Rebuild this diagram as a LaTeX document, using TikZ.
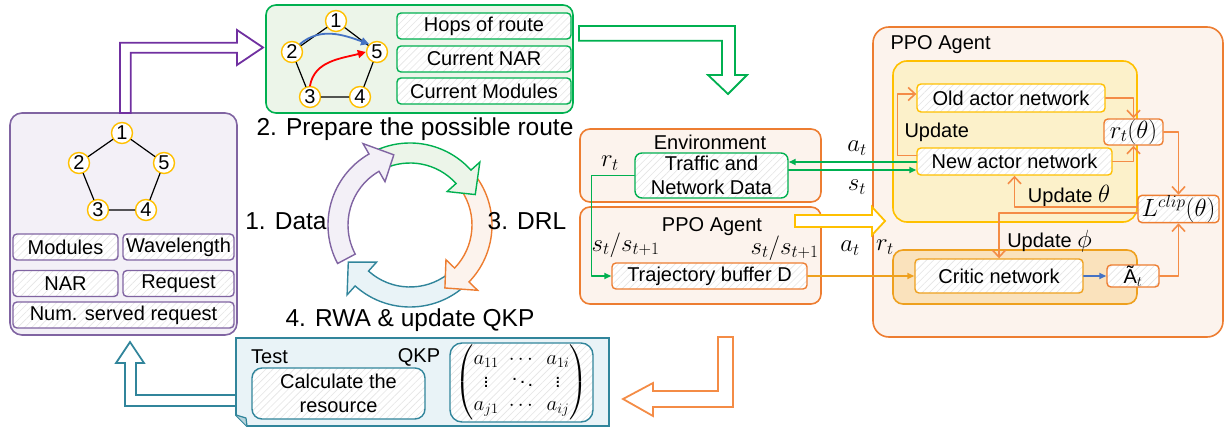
\documentclass[tikz,border=0pt]{standalone}
\usepackage{amsmath}
\usepackage{fontspec}
\setmainfont{Liberation Sans}
\usetikzlibrary{arrows.meta,patterns.meta}

\definecolor{purA}{RGB}{112,48,160}
\definecolor{purB}{RGB}{128,100,162}
\definecolor{purF}{RGB}{243,240,247}
\definecolor{grn}{RGB}{0,176,80}
\definecolor{grnF}{RGB}{236,245,233}
\definecolor{org}{RGB}{237,125,49}
\definecolor{orgL}{RGB}{244,140,70}
\definecolor{orgF}{RGB}{252,243,237}
\definecolor{yel}{RGB}{255,192,0}
\definecolor{yelF}{RGB}{252,241,202}
\definecolor{gold}{RGB}{238,160,30}
\definecolor{goldF}{RGB}{250,226,188}
\definecolor{tea}{RGB}{49,133,155}
\definecolor{teaF}{RGB}{233,243,247}
\definecolor{blu}{RGB}{68,114,196}

% one quarter of the cycle: start angle, end angle, line colour, fill colour
\newcommand{\cyclearrow}[4]{%
  \draw[#3, fill=#4, line width=1.4pt, line join=miter]
    (#1:82) arc[start angle=#1, end angle=#2, radius=82]
    -- (#2:94) -- ({#2-17}:72) -- (#2:50) -- (#2:62)
    arc[start angle=#2, end angle=#1, radius=62] -- cycle;}

\begin{document}
\begin{tikzpicture}[
  x=1pt, y=1pt,
  line cap=round,
  line join=round,
  every node/.style={font=\fontsize{20}{24}\selectfont},
  hatch/.style={preaction={fill=white},
    pattern={Lines[angle=45,distance=5pt,line width=0.6pt]}, pattern color=black!10},
  ibox/.style={draw, hatch, rounded corners=4pt, line width=1.4pt, inner sep=0pt, align=center},
  bigbox/.style={draw, rounded corners=12pt, line width=1.6pt, inner sep=0pt},
  rnode/.style={circle, draw=yel, fill=white, line width=1.4pt, minimum size=21pt, inner sep=0pt},
  stage/.style={font=\fontsize{24.5}{28}\selectfont},
  mlab/.style={font=\fontsize{23}{26}\selectfont},
  hollow/.style={line width=1.8pt, fill=white, line join=miter},
  barb/.style={orgL, line width=1.6pt, -{Straight Barb[length=7pt,width=13pt]}},
  garrow/.style={grn, line width=1.6pt, -{Triangle[length=7pt,width=6pt]}}
]
  \useasboundingbox (0,0) rectangle (1225,-430);

  % 1. Data
  \node[bigbox, draw=purB, fill=purF, minimum width=227pt, minimum height=222pt] (data) at (123.5,-224) {};
  \node[rnode] (d1) at (122,-133) {1};
  \node[rnode] (d2) at (79,-163) {2};
  \node[rnode] (d5) at (164,-163) {5};
  \node[rnode] (d3) at (98,-210) {3};
  \node[rnode] (d4) at (146,-210) {4};
  \draw[line width=1.2pt] (d1) -- (d2) -- (d3) -- (d4) -- (d5) -- (d1);
  \node[ibox, draw=purB, minimum width=105pt, minimum height=26pt] (mods) at (65.5,-247) {Modules};
  \node[ibox, draw=purB, minimum width=111pt, minimum height=26pt] (wave) at (178.5,-247) {Wavelength};
  \node[ibox, draw=purB, minimum width=105pt, minimum height=26pt] (nar) at (65.5,-283.5) {NAR};
  \node[ibox, draw=purB, minimum width=111pt, minimum height=26pt] (req) at (178.5,-283.5) {Request};
  \node[ibox, draw=purB, minimum width=221pt, minimum height=26pt] (served) at (123.5,-315) {Num. served request};

  % 2. Prepare the possible route
  \node[bigbox, draw=grn, fill=grnF, rounded corners=10pt, minimum width=307pt, minimum height=108pt] (route) at (419.5,-59) {};
  \node[rnode] (r1) at (336,-21) {1};
  \node[rnode] (r2) at (292,-52) {2};
  \node[rnode] (r5) at (377,-52) {5};
  \node[rnode] (r3) at (310,-97) {3};
  \node[rnode] (r4) at (360,-97) {4};
  \draw[line width=1.2pt] (r1) -- (r2) -- (r3) -- (r4) -- (r5) -- (r1);
  \draw[blu, line width=1.8pt, -{Triangle[length=8pt,width=8pt]}] (r2.north east) to[out=40,in=160] (r5.north west);
  \draw[red, line width=1.8pt, -{Triangle[length=8pt,width=8pt]}] (r3.north) to[out=80,in=195] (r5.west);
  \node[ibox, draw=grn, minimum width=174pt, minimum height=26pt] (hops) at (484,-26) {Hops of route};
  \node[ibox, draw=grn, minimum width=174pt, minimum height=26pt] (cnar) at (484,-59) {Current NAR};
  \node[ibox, draw=grn, minimum width=174pt, minimum height=26pt] (cmod) at (484,-91) {Current Modules};

  % cycle
  \begin{scope}[shift={(410,-225)}]
    \cyclearrow{-52}{-132}{tea}{teaF}
    \cyclearrow{34}{-44}{org}{orgF}
    \cyclearrow{116}{42}{grn}{grnF}
    \cyclearrow{208}{120}{purB}{purF}
  \end{scope}
  \node[stage] (lab1) at (286,-221) {1. Data};
  \node[stage] (lab2) at (415,-129) {2. Prepare the possible route};
  \node[stage] (lab3) at (527,-221) {3. DRL};
  \node[stage] (lab4) at (410,-320) {4. RWA \& update QKP};

  % Environment and buffer
  \node[bigbox, draw=org, fill=orgF, rounded corners=10pt, minimum width=241pt, minimum height=73pt] (env) at (700.5,-165.5) {};
  \node (envlab) at (710,-142) {Environment};
  \node[ibox, draw=grn, rounded corners=7pt, minimum width=153pt, minimum height=45pt] (traffic) at (711.5,-175.5) {Traffic and\\Network Data};
  \node[bigbox, draw=org, fill=orgF, rounded corners=10pt, minimum width=241pt, minimum height=97pt] (agentL) at (700.5,-255.5) {};
  \node (agentLlab) at (712,-227) {PPO Agent};
  \node[ibox, draw=org, minimum width=195pt, minimum height=26pt] (buffer) at (709.5,-276) {Trajectory buffer D};
  \node[mlab] (rtA) at (610,-163) {$r_t$};
  \node[mlab] (ssA) at (625.5,-245) {$s_t/s_{t+1}$};
  \node[mlab] (ssB) at (784.5,-248) {$s_t/s_{t+1}$};

  % PPO agent
  \node[bigbox, draw=org, fill=orgF, rounded corners=16pt, minimum width=350pt, minimum height=310pt] (agentR) at (1048,-182) {};
  \node[anchor=west] (agentRlab) at (887,-45) {PPO Agent};
  \node[bigbox, draw=yel, fill=yelF, rounded corners=14pt, minimum width=244pt, minimum height=161pt] (actor) at (1015,-141.5) {};
  \node[bigbox, draw=gold, fill=goldF, rounded corners=10pt, minimum width=244pt, minimum height=54pt] (critic) at (1015,-277) {};
  \node[ibox, draw=yel, minimum width=188pt, minimum height=28pt] (oldact) at (1011,-98) {Old actor network};
  \node[ibox, draw=yel, minimum width=195pt, minimum height=27pt] (newact) at (1014.5,-161.5) {New actor network};
  \node[ibox, draw=org, minimum width=59pt, minimum height=26pt, mlab] (rt) at (1133.5,-132) {$r_t(\theta)$};
  \node[ibox, draw=org, minimum width=81pt, minimum height=22pt, mlab] (lclip) at (1178.5,-209) {$L^{clip}(\theta)$};
  \node[ibox, draw=gold, minimum width=168pt, minimum height=34pt] (critnet) at (999,-276) {Critic network};
  \node[ibox, draw=org, minimum width=52pt, minimum height=22pt] (adv) at (1133,-276) {Ã$_t$};
  \node[anchor=west] (upd) at (901,-132) {Update};
  \node (updth) at (1069,-196) {Update {\fontsize{23}{26}\selectfont$\theta$}};
  \node (updph) at (1049.5,-241) {Update {\fontsize{23}{26}\selectfont$\phi$}};
  \node[mlab] (atA) at (857,-148) {$a_t$};
  \node[mlab] (stA) at (857,-187) {$s_t$};
  \node[mlab] (atB) at (850,-248) {$a_t$};
  \node[mlab] (rtB) at (885,-247) {$r_t$};

  % 4. RWA & update QKP
  \draw[tea, fill=teaF, line width=1.8pt, line join=miter]
    (236,-338) -- (609,-338) -- (609,-426) -- (247,-426) -- (236,-415) -- cycle;
  \draw[tea, fill=tea!35, line width=1.2pt] (236,-415) -- (246,-418) -- (247,-426);
  \node (test) at (269.5,-357) {Test};
  \node (qkp) at (419,-357) {QKP};
  \node[ibox, draw=tea, rounded corners=10pt, minimum width=173pt, minimum height=51pt] (calc) at (338.5,-393.5) {Calculate the\\resource};
  \node[ibox, draw=tea, rounded corners=12pt, minimum width=143pt, minimum height=79pt, font=\fontsize{20}{23}\selectfont] (mat) at (521.5,-382.5)
    {$\begin{pmatrix} a_{11} & \cdots & a_{1i}\\ \vdots & \ddots & \vdots\\ a_{j1} & \cdots & a_{ij}\end{pmatrix}$};

  % Hollow arrows between the stages
  \draw[purA, hollow] (120,-113) -- (120,-42.7) -- (237,-42.7) -- (237,-30) -- (263,-47.5)
    -- (237,-65) -- (237,-52.7) -- (130.7,-52.7) -- (130.7,-113) -- cycle;
  \draw[grn, hollow] (579,-26) -- (735,-26) -- (735,-75) -- (747,-75) -- (728,-94)
    -- (708,-75) -- (722,-75) -- (722,-40.7) -- (579,-40.7) -- cycle;
  \draw[orgL, hollow] (718,-337) -- (733,-337) -- (733,-407) -- (653,-407) -- (653,-416)
    -- (623,-399) -- (653,-383) -- (653,-391) -- (718,-391) -- cycle;
  \draw[tea, hollow] (236,-406) -- (125,-406) -- (125,-363) -- (116,-363) -- (130,-342)
    -- (144,-363) -- (136,-363) -- (136,-395) -- (236,-395) -- cycle;
  \draw[yel, hollow] (795,-215) -- (872,-215) -- (872,-207) -- (885,-221) -- (872,-235)
    -- (872,-227) -- (795,-227) -- cycle;

  % Data flow
  \coordinate (aR) at ([yshift=-0.5pt]newact.west);
  \coordinate (sR) at ([yshift=-8.5pt]newact.west);
  \draw[garrow] (aR) -- (aR -| traffic.east);
  \draw[garrow] (sR -| traffic.east) -- (sR);
  \draw[garrow] (traffic.west) -- ++(-43,0) |- (buffer.west);
  \draw[gold, line width=1.6pt, -{Triangle[length=7pt,width=6pt]}] (buffer.east) -- (critnet.west);
  \draw[blu, line width=1.6pt, -{Triangle[length=7pt,width=6pt]}] (critnet.east) -- (adv.west);

  % Updates inside the agent
  \draw[barb] ([yshift=6pt]newact.west) -- ++(-19,0) |- ([yshift=4pt]oldact.west);
  \draw[barb] (oldact.east) -| (rt.north);
  \draw[barb] (newact.east) -| (rt.south);
  \draw[barb] (rt.east) -| (lclip.north);
  \draw[barb] (adv.east) -| (lclip.south);
  \draw[barb] ([yshift=2pt]lclip.west) -| (newact.south);
  \draw[barb] ([yshift=-4pt]lclip.west) -| (critnet.north);
\end{tikzpicture}
\end{document}
